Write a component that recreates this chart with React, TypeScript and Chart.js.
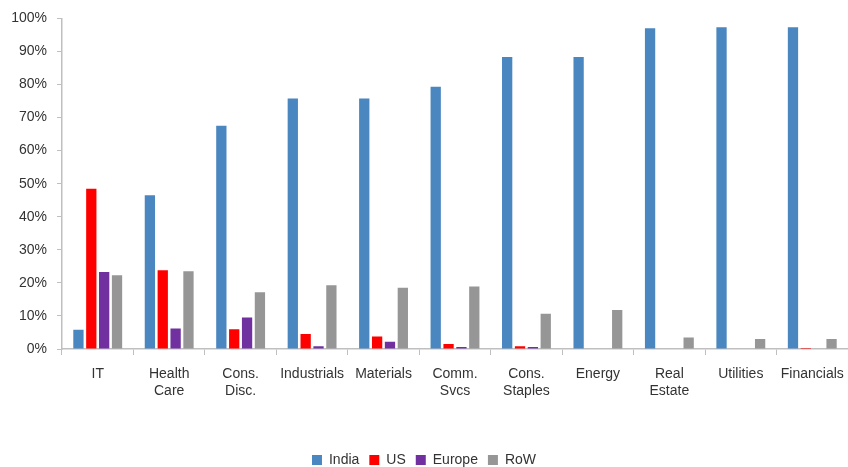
import React, { useEffect, useRef } from "react";
import { Chart, registerables } from "chart.js";

Chart.register(...registerables);

const categories: (string | string[])[] = [
  "IT",
  ["Health", "Care"],
  ["Cons.", "Disc."],
  "Industrials",
  "Materials",
  ["Comm.", "Svcs"],
  ["Cons.", "Staples"],
  "Energy",
  ["Real", "Estate"],
  "Utilities",
  "Financials",
];

const india = [5.8, 46.5, 67.5, 75.8, 75.8, 79.3, 88.3, 88.3, 97.0, 97.3, 97.3];
const us = [48.5, 23.8, 6.0, 4.5, 3.8, 1.5, 0.8, 0, 0, 0, 0.3];
const europe = [23.3, 6.2, 9.5, 0.8, 2.2, 0.6, 0.6, 0, 0, 0, 0];
const row = [22.3, 23.5, 17.2, 19.3, 18.5, 18.9, 10.7, 11.8, 3.5, 3.0, 3.0];

const yTicks = [0, 10, 20, 30, 40, 50, 60, 70, 80, 90, 100];

const legendShift = {
  id: "legendShift",
  afterLayout(chart: any) {
    if (chart.legend) {
      chart.legend.top += 10;
      chart.legend.bottom += 10;
    }
  },
};

export default function App() {
  const ref = useRef<HTMLCanvasElement | null>(null);

  useEffect(() => {
    document.body.style.margin = "0";
    const ctx = ref.current!;
    const font = { family: "'Liberation Sans', Arial, sans-serif", size: 14 };
    const chart = new Chart(ctx, {
      type: "bar",
      data: {
        labels: categories,
        datasets: [
          { label: "India", data: india, backgroundColor: "#4A86C0" },
          { label: "US", data: us, backgroundColor: "#FF0000" },
          { label: "Europe", data: europe, backgroundColor: "#7030A0" },
          { label: "RoW", data: row, backgroundColor: "#969696" },
        ],
      },
      plugins: [legendShift],
      options: {
        animation: false,
        responsive: false,
        maintainAspectRatio: false,
        layout: { padding: { top: 16, right: 0, left: 0, bottom: 0 } },
        datasets: {
          bar: { categoryPercentage: 0.72, barPercentage: 0.8 },
        },
        plugins: {
          tooltip: { enabled: false },
          legend: {
            position: "bottom",
            labels: {
              boxWidth: 10,
              boxHeight: 10,
              padding: 10,
              font,
              color: "#333",
            },
          },
        },
        scales: {
          x: {
            grid: {
              offset: true,
              drawOnChartArea: false,
              drawTicks: true,
              tickLength: 6,
              color: "#BFBFBF",
            },
            border: { color: "#BFBFBF", width: 1.5 },
            ticks: { font, color: "#333", maxRotation: 0, autoSkip: false, padding: 11 },
            afterFit: (s: any) => {
              s.height = 84;
              s.paddingLeft = 0;
              s.paddingRight = 0;
            },
          },
          y: {
            min: 0,
            max: 100,
            afterBuildTicks: (s: any) => {
              s.ticks = yTicks.map((v) => ({ value: v }));
            },
            grid: {
              drawOnChartArea: false,
              drawTicks: true,
              tickLength: 5,
              color: "#BFBFBF",
            },
            border: { color: "#BFBFBF", width: 1.5 },
            ticks: {
              font,
              color: "#333",
              padding: 10,
              callback: (v: any) => v + "%",
            },
            afterFit: (s: any) => {
              s.width = 62;
            },
          },
        },
      },
    });
    return () => chart.destroy();
  }, []);

  return (
    <div style={{ position: "absolute", left: 0, top: 0, width: 848, height: 467 }}>
      <canvas ref={ref} width={848} height={467} />
    </div>
  );
}
